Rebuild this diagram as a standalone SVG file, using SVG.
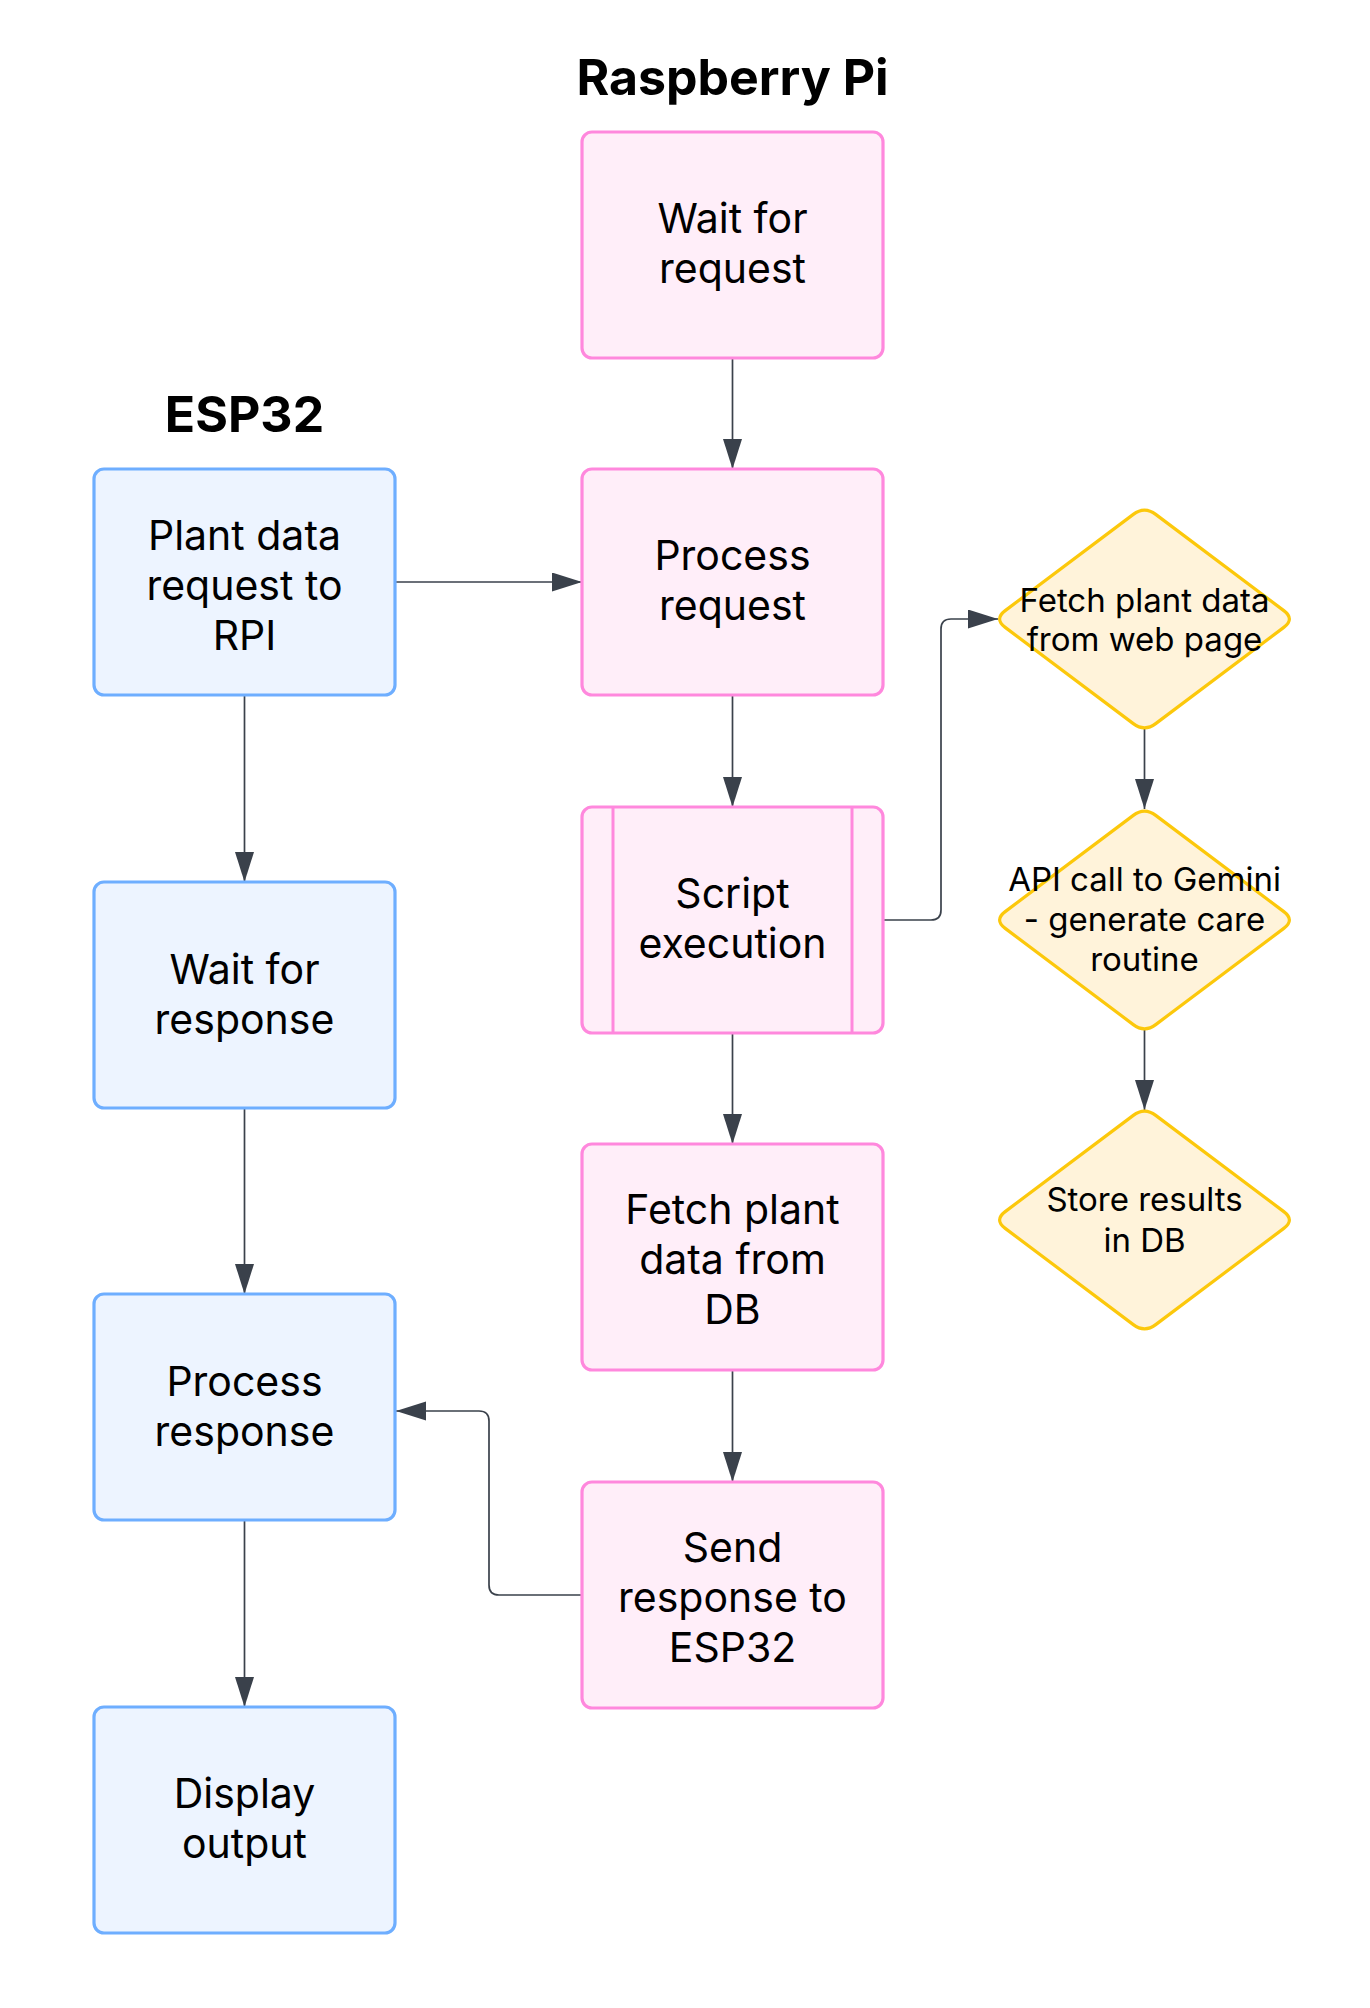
<svg xmlns="http://www.w3.org/2000/svg" width="1370" height="2008" viewBox="0 0 1370 2008">
<style>
  .title{font-family:Inter,"Liberation Sans",sans-serif;font-weight:700;font-size:50px;fill:#000;text-anchor:middle}
  .lbl{font-family:Inter,"Liberation Sans",sans-serif;font-size:41px;fill:#000;text-anchor:middle}
  .dlbl{font-family:Inter,"Liberation Sans",sans-serif;font-size:33px;fill:#000;text-anchor:middle}
  .pink{fill:#FFEEF9;stroke:#FF88DD;stroke-width:3.2}
  .blue{fill:#EDF4FF;stroke:#6EAEFF;stroke-width:3.2}
  .dia{fill:#FFF3DA;stroke:#FCC80B;stroke-width:3.2}
  .pinkline{stroke:#FF88DD;stroke-width:3;fill:none}
  .conn{fill:none;stroke:#3A414B;stroke-width:1.7;marker-end:url(#arr)}
</style>
<defs>
  <marker id="arr" markerUnits="userSpaceOnUse" markerWidth="30" markerHeight="20" refX="30" refY="9.5" orient="auto">
    <path d="M0,0 L30,9.5 L0,19 Z" fill="#3A414B"/>
  </marker>
  <path id="diamond" d="M -11.2,-104.6 Q 0,-113 11.2,-104.6 L 139.3,-8.4 Q 150.5,0 139.3,8.4 L 11.2,104.6 Q 0,113 -11.2,104.6 L -139.3,8.4 Q -150.5,0 -139.3,-8.4 Z"/>
</defs>
<rect width="1370" height="2008" fill="#fff"/>

<g id="titles">
  <text class="title" x="732.5" y="95">Raspberry Pi</text>
  <text class="title" x="244.5" y="432">ESP32</text>
</g>

<g id="connectors">
  <line class="conn" x1="732.5" y1="358" x2="732.5" y2="469"/>
  <line class="conn" x1="732.5" y1="695" x2="732.5" y2="807"/>
  <line class="conn" x1="732.5" y1="1033" x2="732.5" y2="1144"/>
  <line class="conn" x1="732.5" y1="1370" x2="732.5" y2="1482"/>
  <line class="conn" x1="395" y1="582" x2="582" y2="582"/>
  <line class="conn" x1="244.5" y1="695" x2="244.5" y2="882"/>
  <line class="conn" x1="244.5" y1="1108" x2="244.5" y2="1294"/>
  <line class="conn" x1="244.5" y1="1520" x2="244.5" y2="1707"/>
  <path class="conn" d="M 883,920 L 931,920 Q 941,920 941,910 L 941,629 Q 941,619 951,619 L 998,619"/>
  <line class="conn" x1="1144.5" y1="729" x2="1144.5" y2="809"/>
  <line class="conn" x1="1144.5" y1="1030" x2="1144.5" y2="1110"/>
  <path class="conn" d="M 582,1595 L 499,1595 Q 489,1595 489,1585 L 489,1421 Q 489,1411 479,1411 L 396,1411"/>
</g>

<g id="wait-request">
  <rect class="pink" x="582" y="132" width="301" height="226" rx="10"/>
  <text class="lbl" x="732.5" y="233">Wait for</text>
  <text class="lbl" x="732.5" y="283">request</text>
</g>
<g id="process-request">
  <rect class="pink" x="582" y="469" width="301" height="226" rx="10"/>
  <text class="lbl" x="732.5" y="570">Process</text>
  <text class="lbl" x="732.5" y="620">request</text>
</g>
<g id="script-execution">
  <rect class="pink" x="582" y="807" width="301" height="226" rx="10"/>
  <line class="pinkline" x1="613" y1="807" x2="613" y2="1033"/>
  <line class="pinkline" x1="852" y1="807" x2="852" y2="1033"/>
  <text class="lbl" x="732.5" y="908">Script</text>
  <text class="lbl" x="732.5" y="958">execution</text>
</g>
<g id="fetch-db">
  <rect class="pink" x="582" y="1144" width="301" height="226" rx="10"/>
  <text class="lbl" x="732.5" y="1224">Fetch plant</text>
  <text class="lbl" x="732.5" y="1274">data from</text>
  <text class="lbl" x="732.5" y="1324">DB</text>
</g>
<g id="send-response">
  <rect class="pink" x="582" y="1482" width="301" height="226" rx="10"/>
  <text class="lbl" x="732.5" y="1562">Send</text>
  <text class="lbl" x="732.5" y="1612">response to</text>
  <text class="lbl" x="732.5" y="1662">ESP32</text>
</g>

<g id="plant-request">
  <rect class="blue" x="94" y="469" width="301" height="226" rx="10"/>
  <text class="lbl" x="244.5" y="550">Plant data</text>
  <text class="lbl" x="244.5" y="600">request to</text>
  <text class="lbl" x="244.5" y="650">RPI</text>
</g>
<g id="wait-response">
  <rect class="blue" x="94" y="882" width="301" height="226" rx="10"/>
  <text class="lbl" x="244.5" y="984">Wait for</text>
  <text class="lbl" x="244.5" y="1034">response</text>
</g>
<g id="process-response">
  <rect class="blue" x="94" y="1294" width="301" height="226" rx="10"/>
  <text class="lbl" x="244.5" y="1396">Process</text>
  <text class="lbl" x="244.5" y="1446">response</text>
</g>
<g id="display-output">
  <rect class="blue" x="94" y="1707" width="301" height="226" rx="10"/>
  <text class="lbl" x="244.5" y="1808">Display</text>
  <text class="lbl" x="244.5" y="1858">output</text>
</g>

<g id="fetch-web">
  <use href="#diamond" class="dia" transform="translate(1144.5,619)"/>
  <text class="dlbl" x="1144.5" y="612">Fetch plant data</text>
  <text class="dlbl" x="1144.5" y="651">from web page</text>
</g>
<g id="gemini">
  <use href="#diamond" class="dia" transform="translate(1144.5,920)"/>
  <text class="dlbl" x="1144.5" y="891">API call to Gemini</text>
  <text class="dlbl" x="1144.5" y="931">- generate care</text>
  <text class="dlbl" x="1144.5" y="971">routine</text>
</g>
<g id="store-db">
  <use href="#diamond" class="dia" transform="translate(1144.5,1220)"/>
  <text class="dlbl" x="1144.5" y="1211">Store results</text>
  <text class="dlbl" x="1144.5" y="1252">in DB</text>
</g>
</svg>
